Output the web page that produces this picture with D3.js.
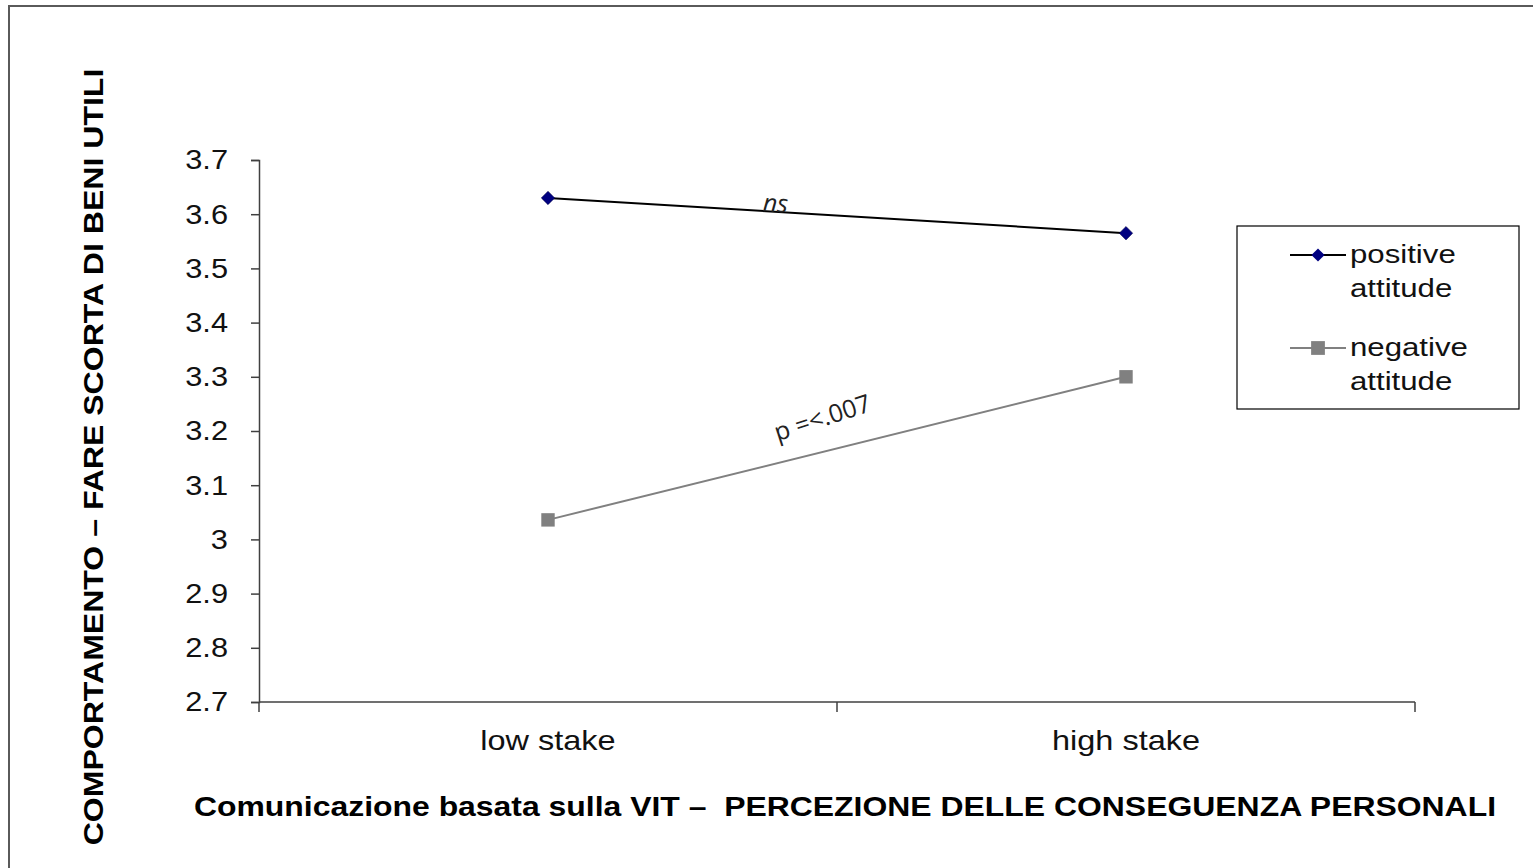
<!DOCTYPE html>
<html>
<head>
<meta charset="utf-8">
<script src="https://cdn.jsdelivr.net/npm/d3@7"></script>
<style>
  body { margin: 0; background: #fff; }
  svg { display: block; font-family: "Liberation Sans", Arial, sans-serif; }
</style>
</head>
<body>
<div id="chart"></div>
<script>
var categories = ["low stake", "high stake"];
var positive = [3.63, 3.565];
var negative = [3.036, 3.30];
var seriesNames = ["positive attitude", "negative attitude"];
var yTicks = [2.7, 2.8, 2.9, 3, 3.1, 3.2, 3.3, 3.4, 3.5, 3.6, 3.7];

var W = 1533, H = 868,
  margin = {top: 160, right: 118, bottom: 166, left: 259},
  width = W - margin.left - margin.right,
  height = H - margin.top - margin.bottom;

// the source text is a bit wider than Liberation Sans, stretch it horizontally
function stretch(sel, sx) {
  sel.attr("transform", function() {
    var t = d3.select(this), x = +t.attr("x") || 0, y = +t.attr("y") || 0;
    return "translate(" + x + "," + y + ") scale(" + sx + ",1) translate(" + (-x) + "," + (-y) + ")";
  });
}

var svg = d3.select("#chart").append("svg")
  .attr("width", W)
  .attr("height", H);

// outer frame (only top/left visible in the picture)
svg.append("path")
  .attr("d", "M9," + H + "V6H" + W)
  .attr("fill", "none")
  .attr("stroke", "#5a5a5a")
  .attr("stroke-width", 2);

var g = svg.append("g")
  .attr("transform", "translate(" + margin.left + "," + margin.top + ")");

var x = d3.scaleBand()
  .domain(categories)
  .range([0, width]);

var y = d3.scaleLinear()
  .domain([2.7, 3.7])
  .range([height, 0]);

var cx = function(d) { return x(d) + x.bandwidth() / 2; };

// y axis
var yAxis = g.append("g")
  .call(d3.axisLeft(y).tickValues(yTicks).tickSize(8).tickPadding(23).tickFormat(d3.format("")));
yAxis.select(".domain").attr("stroke", "#404040").attr("stroke-width", 1.5);
yAxis.selectAll(".tick line").attr("stroke", "#404040").attr("stroke-width", 1.5);
yAxis.selectAll(".tick text")
  .style("font-size", "28px")
  .attr("fill", "#111")
  .call(stretch, 1.1);

// x axis with ticks at category boundaries
g.append("line")
  .attr("x1", 0).attr("x2", width)
  .attr("y1", height).attr("y2", height)
  .attr("stroke", "#404040").attr("stroke-width", 1.5);

g.selectAll(".xtick")
  .data([0, 1, 2])
  .enter().append("line")
  .attr("x1", function(i) { return i * x.bandwidth(); })
  .attr("x2", function(i) { return i * x.bandwidth(); })
  .attr("y1", height).attr("y2", height + 10)
  .attr("stroke", "#404040").attr("stroke-width", 1.5);

g.selectAll(".xlab")
  .data(categories)
  .enter().append("text")
  .attr("x", cx)
  .attr("y", height + 48)
  .attr("text-anchor", "middle")
  .style("font-size", "28px")
  .attr("fill", "#111")
  .text(function(d) { return d; })
  .call(stretch, 1.16);

// lines
var line = d3.line()
  .x(function(d, i) { return cx(categories[i]); })
  .y(function(d) { return y(d); });

g.append("path")
  .datum(positive)
  .attr("d", line)
  .attr("fill", "none")
  .attr("stroke", "#000")
  .attr("stroke-width", 2);

g.append("path")
  .datum(negative)
  .attr("d", line)
  .attr("fill", "none")
  .attr("stroke", "#808080")
  .attr("stroke-width", 2);

var diamond = d3.symbol().type(d3.symbolDiamond2).size(115);
var square = d3.symbol().type(d3.symbolSquare).size(180);

g.selectAll(".pos")
  .data(positive)
  .enter().append("path")
  .attr("d", diamond)
  .attr("transform", function(d, i) { return "translate(" + cx(categories[i]) + "," + y(d) + ")"; })
  .attr("fill", "#000080")
  .attr("stroke", "#000040")
  .attr("stroke-width", 0.5);

g.selectAll(".neg")
  .data(negative)
  .enter().append("path")
  .attr("d", square)
  .attr("transform", function(d, i) { return "translate(" + cx(categories[i]) + "," + y(d) + ")"; })
  .attr("fill", "#808080");

// annotations
function angle(vals) {
  var dx = cx(categories[1]) - cx(categories[0]);
  var dy = y(vals[1]) - y(vals[0]);
  return Math.atan2(dy, dx) * 180 / Math.PI;
}

g.append("text")
  .attr("transform", "translate(" + (775 - margin.left) + "," + (212 - margin.top) + ") rotate(" + angle(positive) + ")")
  .attr("text-anchor", "middle")
  .style("font-family", "'Open Sans', sans-serif")
  .style("font-style", "italic")
  .style("font-size", "25px")
  .attr("fill", "#222")
  .text("ns");

g.append("text")
  .attr("transform", "translate(" + (825 - margin.left) + "," + (426 - margin.top) + ") rotate(" + (angle(negative) - 4) + ")")
  .attr("text-anchor", "middle")
  .style("font-family", "'Open Sans', sans-serif")
  .style("font-size", "25px")
  .attr("fill", "#222")
  .text("p =<.007");

// axis titles
svg.append("text")
  .attr("x", 845)
  .attr("y", 816)
  .attr("text-anchor", "middle")
  .style("font-size", "28px")
  .style("font-weight", "bold")
  .style("white-space", "pre")
  .attr("fill", "#000")
  .text("Comunicazione basata sulla VIT \u2013  PERCEZIONE DELLE CONSEGUENZA PERSONALI")
  .call(stretch, 1.14);

svg.append("text")
  .attr("transform", "translate(103,457) rotate(-90) scale(1.145,1)")
  .attr("text-anchor", "middle")
  .style("font-size", "28px")
  .style("font-weight", "bold")
  .attr("fill", "#000")
  .text("COMPORTAMENTO \u2013 FARE SCORTA DI BENI UTILI");

// legend
var legend = svg.append("g")
  .attr("transform", "translate(1237,226)");

legend.append("rect")
  .attr("width", 282)
  .attr("height", 183)
  .attr("fill", "#fff")
  .attr("stroke", "#000")
  .attr("stroke-width", 1.2);

var items = legend.selectAll(".item")
  .data(seriesNames)
  .enter().append("g")
  .attr("transform", function(d, i) { return "translate(0," + (29 + i * 93) + ")"; });

items.append("line")
  .attr("x1", 53).attr("x2", 109)
  .attr("stroke", function(d, i) { return i === 0 ? "#000" : "#808080"; })
  .attr("stroke-width", 2);

items.append("path")
  .attr("d", function(d, i) { return i === 0 ? d3.symbol().type(d3.symbolDiamond2).size(110)() : d3.symbol().type(d3.symbolSquare).size(190)(); })
  .attr("transform", "translate(81,0)")
  .attr("fill", function(d, i) { return i === 0 ? "#000080" : "#808080"; });

items.append("text")
  .attr("x", 113)
  .attr("y", 8)
  .style("font-size", "26px")
  .attr("fill", "#111")
  .call(stretch, 1.2)
  .selectAll("tspan")
  .data(function(d) { return d.split(" "); })
  .enter().append("tspan")
  .attr("x", 113)
  .attr("dy", function(d, i) { return i === 0 ? 0 : 34; })
  .text(function(d) { return d; });
</script>
</body>
</html>
